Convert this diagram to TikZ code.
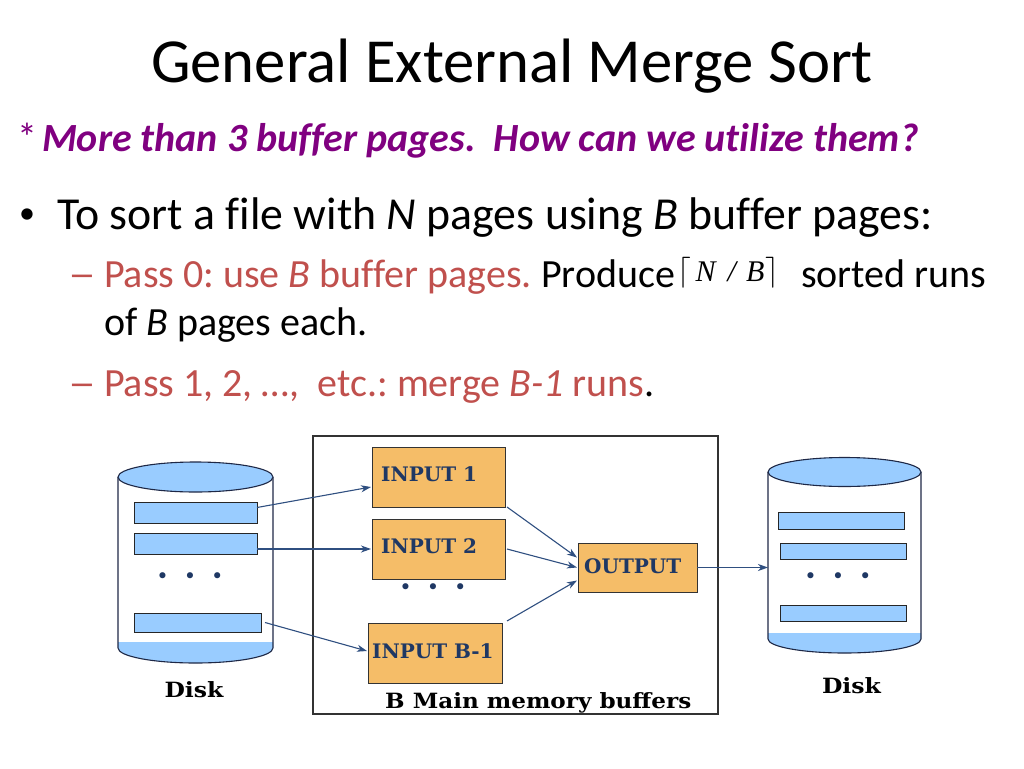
\RequirePackage{fix-cm}
\documentclass[tikz,border=0pt]{standalone}
\usepackage{fontspec}
\setmainfont[Ligatures={NoCommon}]{Carlito}
\newfontfamily\dfont{DejaVu Serif}
\newfontfamily\tfont{Liberation Serif}
\newfontfamily\symfont{DejaVu Sans}
\usetikzlibrary{arrows.meta,calc}
\definecolor{purp}{RGB}{128,0,128}
\definecolor{passred}{RGB}{192,80,77}
\definecolor{navy}{RGB}{31,56,100}
\definecolor{buf}{RGB}{245,189,104}
\definecolor{dsk}{RGB}{153,204,255}
\definecolor{arrc}{RGB}{47,79,128}
\definecolor{dline}{RGB}{30,40,70}
\frenchspacing
\begin{document}
\begin{tikzpicture}[x=1pt,y=-1pt,
  txt/.style={anchor=base west,inner sep=0pt,outer sep=0pt},
  buffer/.style={draw=black!80,line width=1pt,fill=buf,anchor=north west,inner sep=0pt,outer sep=0pt},
  pagebox/.style={draw=black!85,line width=1pt,fill=dsk,anchor=north west,inner sep=0pt,outer sep=0pt},
  lbl/.style={anchor=base west,inner sep=0pt,text=navy,font=\dfont\bfseries\fontsize{20}{20}\selectfont},
  blbl/.style={inner sep=0pt,text=black,font=\dfont\bfseries\fontsize{21}{21}\selectfont},
  arr/.style={draw=arrc,line width=1.1pt,-{Stealth[length=10pt,width=7pt,inset=3pt]}},
  dskline/.style={draw=dline,line width=1.1pt},
  dotrow/.style={inner sep=0pt,text=navy,font=\symfont\fontsize{21}{21}\selectfont}]
\useasboundingbox (0,0) rectangle (1024,768);

% ---------- text ----------
\node[anchor=base,inner sep=0pt,font=\fontsize{62.7}{62.7}\selectfont] (title) at (512,82) {General External Merge Sort};
\node[txt,text=purp,font=\fontsize{40}{40}\selectfont] (star) at (17,151) {*};
\node[txt,text=purp,font=\fontsize{40}{40}\selectfont\bfseries\itshape] (sub) at (42,151) {More than 3 buffer pages.\ \ How can we utilize them?};
\node[txt,font=\fontsize{32}{32}\selectfont] (bul) at (19,223) {•};
\node[txt,font=\fontsize{45.8}{45.8}\selectfont] (b1) at (57,229) {To sort a file with \textit{N} pages using \textit{B} buffer pages:};
\node[txt,text=passred,font=\fontsize{40}{40}\selectfont] (d1) at (68,287) {\scalebox{1.4}[1]{–}};
\node[txt,font=\fontsize{40}{40}\selectfont] (s1) at (104,287) {{\color{passred}Pass 0: use \textit{B} buffer pages.} Produce\hspace{3pt}\raisebox{7pt}{\fontsize{31}{31}\selectfont$\lceil$}\hspace{4pt}\raisebox{6pt}{\tfont\itshape\fontsize{30}{30}\selectfont N\hspace{12pt}/\hspace{10pt}B}\hspace{1pt}\raisebox{7pt}{\fontsize{31}{31}\selectfont$\rceil$}\hspace{22pt}sorted runs};
\node[txt,font=\fontsize{40}{40}\selectfont] (s1b) at (104,335) {of \textit{B} pages each.};
\node[txt,text=passred,font=\fontsize{40}{40}\selectfont] (d2) at (68,396) {\scalebox{1.4}[1]{–}};
\node[txt,font=\fontsize{40}{40}\selectfont] (s2) at (104,396) {{\color{passred}Pass 1, 2, …,\ \ etc.: merge \textit{B-1} runs}.};

% ---------- main memory box ----------
\node[draw=black!80,line width=1.2pt,anchor=north west,minimum width=405pt,minimum height=278pt,inner sep=0pt,outer sep=0pt] (mem) at (313,436) {};
\node[blbl,anchor=base west] (memlbl) at (385,708) {\scalebox{1.1}[1]{B Main memory buffers}};

% ---------- left disk ----------
\fill[dsk] (118,642) -- (273,642) -- (273,648) arc[start angle=0,end angle=180,x radius=77.5,y radius=15] -- cycle;
\draw[dskline] (118,477) -- (118,648) arc[start angle=180,end angle=0,x radius=77.5,y radius=15] -- (273,477);
\draw[dskline,fill=dsk] (195.5,477) ellipse[x radius=77.5,y radius=15];
\node[pagebox,minimum width=123pt,minimum height=21pt] (l1) at (134,502) {};
\node[pagebox,minimum width=123pt,minimum height=21pt] (l2) at (134,533) {};
\node[pagebox,minimum width=127pt,minimum height=19pt] (l3) at (134,613) {};
\node[dotrow] (ldots) at (190,578) {•\hspace{15pt}•\hspace{15pt}•};
\node[blbl,anchor=base] (ldisk) at (194,697) {\scalebox{1.12}[1]{Disk}};

% ---------- right disk ----------
\fill[dsk] (768,633) -- (921,633) -- (921,639) arc[start angle=0,end angle=180,x radius=76.5,y radius=14] -- cycle;
\draw[dskline] (768,472) -- (768,639) arc[start angle=180,end angle=0,x radius=76.5,y radius=14] -- (921,472);
\draw[dskline,fill=dsk] (844.5,472) ellipse[x radius=76.5,y radius=14.5];
\node[pagebox,minimum width=126pt,minimum height=17pt] (r1) at (778,512) {};
\node[pagebox,minimum width=126pt,minimum height=16pt] (r2) at (780,543) {};
\node[pagebox,minimum width=126pt,minimum height=16pt] (r3) at (780,605) {};
\node[dotrow] (rdots) at (838,578) {•\hspace{15pt}•\hspace{15pt}•};
\node[blbl,anchor=base] (rdisk) at (851.5,693) {\scalebox{1.12}[1]{Disk}};
\coordinate (rdin) at (768,569);

% ---------- buffers ----------
\node[buffer,minimum width=133pt,minimum height=60pt] (in1) at (372,447) {};
\node[buffer,minimum width=133pt,minimum height=60pt] (in2) at (372,519) {};
\node[buffer,minimum width=134pt,minimum height=60pt] (in3) at (368,623) {};
\node[buffer,minimum width=119pt,minimum height=49pt] (out) at (578,543) {};
\node[lbl] (in1t) at (381,481) {INPUT\ 1};
\node[lbl] (in2t) at (381,553) {INPUT 2};
\node[lbl] (in3t) at (372,658) {INPUT B-1};
\node[lbl] (outt) at (584,573) {OUTPUT};
\node[dotrow] (mdots) at (433,589) {•\hspace{15pt}•\hspace{15pt}•};

% ---------- arrows ----------
\draw[arr] ($(l1.east)+(0,-5)$) -- ($(in1.west)+(-1,10)$);
\draw[arr] (in2.west -| l2.east) -- ($(in2.west)+(-1,0)$);
\draw[arr] ($(l3.east)+(4,0)$) -- ($(in3.west)+(-1,-2)$);
\draw[arr] ($(in1.south east)+(2,0)$) -- ($(out.west)+(-1,-10)$);
\draw[arr] ($(in2.east)+(2,0)$) -- ($(out.west)+(-1,0)$);
\draw[arr] ($(in3.north east)+(5,-2)$) -- ($(out.west)+(-1,13)$);
\draw[arr] (out.east) -- (out.east -| rdin);
\end{tikzpicture}
\end{document}
